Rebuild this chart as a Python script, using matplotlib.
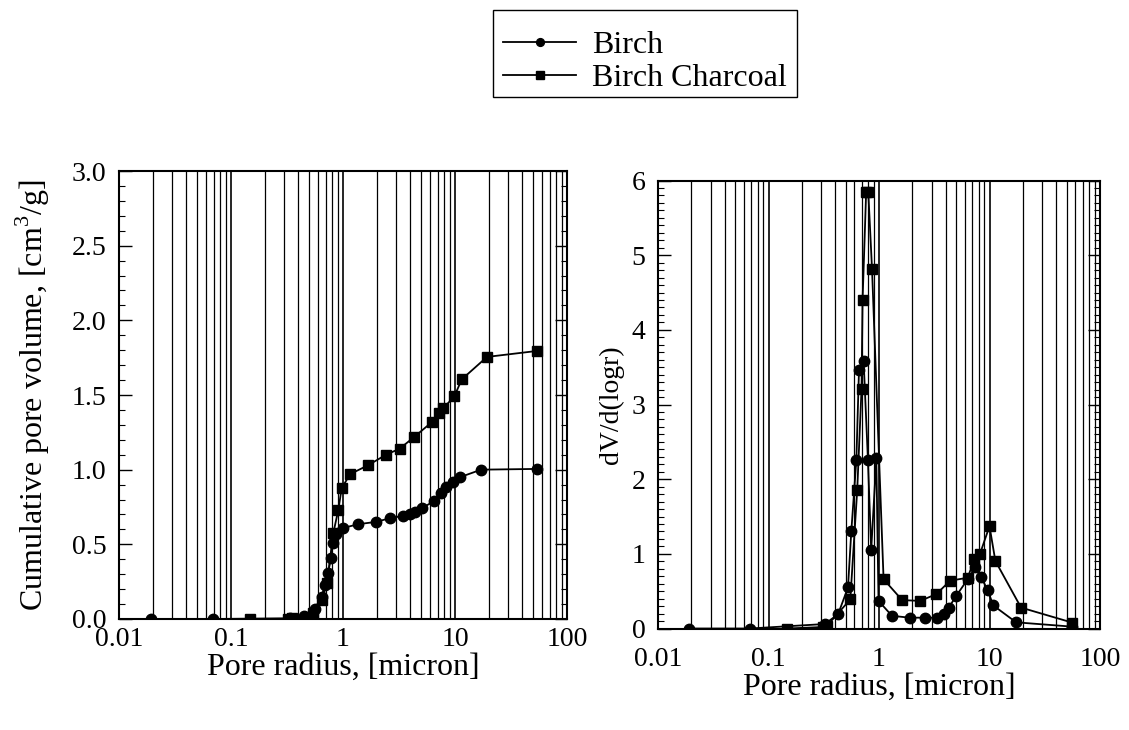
import matplotlib
matplotlib.use("Agg")
import matplotlib.pyplot as plt
from matplotlib.patches import Rectangle
from matplotlib.ticker import MultipleLocator, FixedLocator, NullFormatter, FormatStrFormatter

plt.rcParams['font.family'] = ['Liberation Serif', 'DejaVu Serif']
plt.rcParams['mathtext.fontset'] = 'custom'
plt.rcParams['mathtext.rm'] = 'Liberation Serif'

# ---- data: left panel (cumulative pore volume) ----
birch_r_cum = [0.0192, 0.0695, 0.336, 0.449, 0.562, 0.645, 0.69, 0.74, 0.777, 0.81, 0.87,
               1.01, 1.37, 1.96, 2.63, 3.41, 3.96, 4.39, 5.04, 6.49, 7.45, 8.26, 9.66,
               11.1, 17.1, 53.7]
birch_cum = [0.0, 0.0, 0.005, 0.02, 0.07, 0.15, 0.23, 0.31, 0.41, 0.51, 0.57,
             0.61, 0.635, 0.65, 0.675, 0.69, 0.705, 0.715, 0.74, 0.79, 0.845, 0.885, 0.92,
             0.95, 1.0, 1.005]
charcoal_r_cum = [0.148, 0.324, 0.35, 0.543, 0.645, 0.72, 0.819, 0.908, 0.973, 1.156, 1.68,
                  2.42, 3.2, 4.34, 6.25, 7.17, 7.83, 9.85, 11.5, 19.3, 54.0]
charcoal_cum = [0.0, 0.0, 0.005, 0.04, 0.13, 0.24, 0.575, 0.73, 0.875, 0.97, 1.03,
                1.10, 1.14, 1.22, 1.32, 1.38, 1.41, 1.49, 1.605, 1.755, 1.795]

# ---- data: right panel (dV/d(logr)) ----
birch_r_dv = [0.019, 0.068, 0.323, 0.426, 0.524, 0.562, 0.624, 0.659, 0.726, 0.794, 0.85,
              0.946, 0.99, 1.31, 1.89, 2.63, 3.36, 3.86, 4.28, 4.99, 6.35, 7.46, 8.39,
              9.63, 10.8, 17.4, 55.7]
birch_dv = [0.0, 0.0, 0.06, 0.19, 0.55, 1.31, 2.26, 3.46, 3.58, 2.26, 1.05,
            2.28, 0.37, 0.17, 0.145, 0.145, 0.145, 0.20, 0.28, 0.435, 0.66, 0.82, 0.685,
            0.516, 0.31, 0.083, 0.025]
charcoal_r_dv = [0.148, 0.31, 0.34, 0.55, 0.635, 0.695, 0.71, 0.765, 0.80, 0.865, 1.10,
                 1.62, 2.36, 3.3, 4.4, 6.35, 7.3, 8.2, 10.0, 11.3, 19.3, 55.7]
charcoal_dv = [0.0, 0.02, 0.04, 0.39, 1.85, 3.21, 4.40, 5.84, 5.84, 4.81, 0.66,
               0.38, 0.37, 0.46, 0.64, 0.68, 0.93, 1.0, 1.37, 0.905, 0.28, 0.08]

xticks = [0.01, 0.1, 1, 10, 100]
xticklabels = ['0.01', '0.1', '1', '10', '100']
series_labels = ['Birch', 'Birch Charcoal']

TFS = 20   # tick labels
LFS = 23   # axis labels / legend

W, H = 1129, 730
fig = plt.figure(figsize=(W/100, H/100), dpi=100)
axL = fig.add_axes([119/W, 1-619/H, 448/W, 448/H])
axR = fig.add_axes([658/W, 1-628.5/H, 442/W, 448/H])

def style(ax, ymax, ymajor, yminor, pad):
    ax.set_xscale('log')
    ax.set_xlim(0.01, 100)
    ax.set_ylim(0, ymax)
    minors = [m * 10.0**e for e in range(-2, 2) for m in range(2, 10)]
    for v in minors:
        ax.axvline(v, color='black', lw=0.9, zorder=1)
    for v in xticks[1:-1]:
        ax.axvline(v, color='black', lw=1.2, zorder=1)
    ax.xaxis.set_major_locator(FixedLocator(xticks))
    ax.set_xticklabels(xticklabels)
    ax.xaxis.set_minor_locator(FixedLocator(minors))
    ax.xaxis.set_minor_formatter(NullFormatter())
    ax.tick_params(axis='x', which='both', length=0, pad=pad, labelsize=TFS)
    ax.yaxis.set_major_locator(MultipleLocator(ymajor))
    ax.yaxis.set_minor_locator(MultipleLocator(yminor))
    ax.tick_params(axis='y', which='major', direction='in', length=9, width=1.0,
                   left=True, right=True, labelsize=TFS, pad=9)
    ax.tick_params(axis='y', which='minor', direction='in', length=4.5, width=0.8,
                   left=True, right=True)
    for s in ax.spines.values():
        s.set_linewidth(1.5)
        s.set_zorder(5)

style(axL, 3.0, 0.5, 0.1, 6)
style(axR, 6.0, 1, 0.1, 13)
axL.yaxis.set_major_formatter(FormatStrFormatter('%.1f'))

mk = dict(color='black', lw=1.3, markersize=7.5, zorder=3)
l1, = axL.plot(birch_r_cum, birch_cum, marker='o', **mk)
l2, = axL.plot(charcoal_r_cum, charcoal_cum, marker='s', **mk)
axR.plot(birch_r_dv, birch_dv, marker='o', **mk)
axR.plot(charcoal_r_dv, charcoal_dv, marker='s', **mk)

axL.set_ylabel('Cumulative pore volume, [cm$^3$/g]', fontsize=LFS)
axL.yaxis.set_label_coords(-0.150, 0.5)
axR.set_ylabel('dV/d(logr)', fontsize=TFS)
axR.yaxis.set_label_coords(-0.078, 0.5)
axL.set_xlabel('Pore radius, [micron]', fontsize=LFS)
axL.xaxis.set_label_coords(0.5, -0.075)
axR.set_xlabel('Pore radius, [micron]', fontsize=LFS)
axR.xaxis.set_label_coords(0.5, -0.098)

# legend box (frame drawn separately to match the reference's padding)
fig.patches.append(Rectangle((493/W, 1-97/H), (797-493)/W, (97-10)/H,
                             transform=fig.transFigure, fill=False,
                             edgecolor='black', lw=1.0))
leg = fig.legend([l1, l2], series_labels, loc='center',
                 bbox_to_anchor=(645/W, 1-62/H), fontsize=LFS, frameon=False,
                 handlelength=2.3, markerscale=0.75,
                 borderpad=0.0, labelspacing=0.1, handletextpad=0.5, borderaxespad=0)

fig.savefig('out.png', dpi=100)
